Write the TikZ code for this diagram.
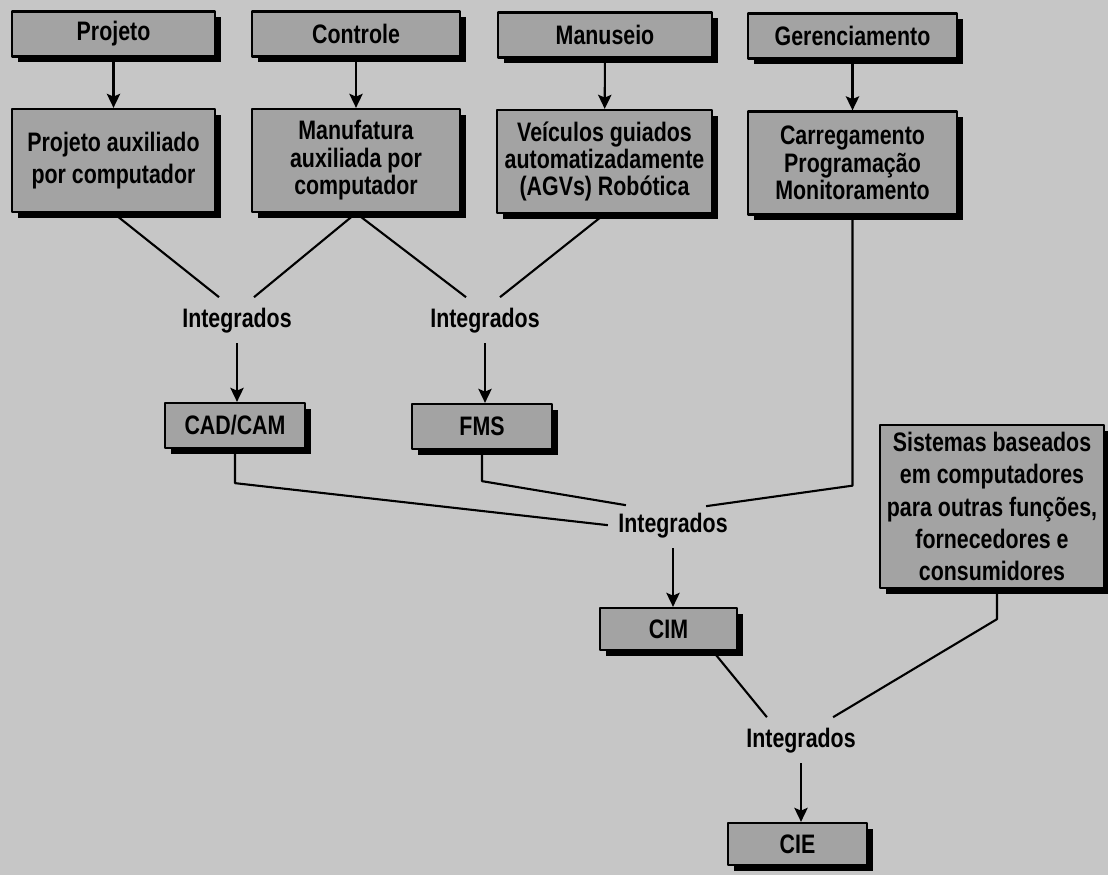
\documentclass[tikz,border=0pt]{standalone}
\usepackage{fontspec}
\setmainfont{Liberation Sans}[FakeStretch=0.8]
\usetikzlibrary{arrows.meta,shadows,calc}
\definecolor{fundo}{RGB}{198,198,198}
\definecolor{cinza}{RGB}{163,163,163}
\tikzset{
	caixa/.style={draw=black, line width=1.6pt, fill=cinza, inner sep=0pt, align=center,
		drop shadow={shadow xshift=4pt, shadow yshift=-4pt, fill=black, opacity=1}},
	integ/.style={anchor=base, inner sep=6.7pt},
	apertado/.style={font=\fontsize{19pt}{19.5pt}\selectfont\bfseries}
}
\begin{document}
\begin{tikzpicture}[x=0.025cm, y=-0.025cm, line join=round, line width=1.5pt,
	>={Stealth[length=10pt, width=9.5pt, inset=2pt]}, font=\fontsize{19pt}{23pt}\selectfont\bfseries]

	% Fundo cinza
	\useasboundingbox (0,0) rectangle (1108,875);
	\fill[fundo] (0,0) rectangle (1108,875);

	% Primeira linha de caixas
	\node[caixa, minimum width=5.075cm, minimum height=1.125cm] (projeto) at (113.5,34) {Projeto};
	\node[caixa, minimum width=5.2cm, minimum height=1.125cm] (controle) at (356,34) {Controle};
	\node[caixa, minimum width=5.35cm, minimum height=1.125cm] (manuseio) at (605,35) {Manuseio};
	\node[caixa, minimum width=5.225cm, minimum height=1.125cm] (gerenc) at (852.5,36) {Gerenciamento};

	% Segunda linha de caixas
	\node[caixa, minimum width=5.075cm, minimum height=2.575cm] (projaux) at (113.5,160.5) {Projeto auxiliado\\por computador};
	\node[caixa, apertado, minimum width=5.2cm, minimum height=2.575cm] (manuf) at (356,160.5) {Manufatura\\auxiliada por\\computador};
	\node[caixa, apertado, minimum width=5.375cm, minimum height=2.575cm] (veic) at (604.5,161.5) {Veículos guiados\\automatizadamente\\(AGVs) Robótica};
	\node[caixa, apertado, minimum width=5.225cm, minimum height=2.575cm] (carreg) at (852.5,163) {Carregamento\\Programação\\Monitoramento};

	% Textos "Integrados"
	\node[integ] (int1) at (237,327) {Integrados};
	\node[integ] (int2) at (485,327) {Integrados};
	\node[integ] (int3) at (673,532) {Integrados};
	\node[integ] (int4) at (801,747) {Integrados};

	% Caixas de baixo
	\node[caixa, minimum width=3.5cm, minimum height=1.125cm] (cadcam) at (235,425.5) {CAD/CAM};
	\node[caixa, minimum width=3.5cm, minimum height=1.125cm] (fms) at (482,426.5) {FMS};
	\node[caixa, minimum width=3.425cm, minimum height=1.05cm] (cim) at (668.5,629) {CIM};
	\node[caixa, minimum width=5.6cm, minimum height=4.075cm] (sist) at (992,506.5) {Sistemas baseados\\em computadores\\para outras funções,\\fornecedores e\\consumidores};
	\node[caixa, minimum width=3.475cm, minimum height=1.05cm] (cie) at (797.5,844) {CIE};

	% Setas entre as duas linhas
	\draw[->] (projeto) -- (projaux);
	\draw[->] (controle) -- (manuf);
	\draw[->] (manuseio) -- (veic);
	\draw[->] (gerenc) -- (carreg);

	% Ligacoes para os primeiros "Integrados"
	\draw (projaux.south) -- ($(int1.north)+(-18,0)$);
	\draw (manuf.south) -- ($(int1.north)+(17,0)$);
	\draw (manuf.south) -- ($(int2.north)+(-19,0)$);
	\draw (veic.south) -- ($(int2.north)+(15,0)$);
	\draw[->] (int1.south) -- (int1.south |- cadcam.north);
	\draw[->] (int2.south) -- (int2.south |- fms.north);

	% CAD/CAM, FMS e gerenciamento
	\draw (cadcam.south) -- ++(0,34) -- (int3.west);
	\draw (fms.south) -- ++(0,31) -- ($(int3.north west)+(18,3)$);
	\draw (carreg.south) -- ++(0,270) -- ($(int3.north east)+(-32,4)$);
	\draw[->] (int3.south) -- (int3.south |- cim.north);

	% CIM e outros sistemas
	\draw ($(cim.south east)+(-22,4)$) -- ($(int4.north west)+(31,0)$);
	\draw ($(sist.south)+(5,0)$) -- ++(0,30) -- ($(int4.north east)+(-33,0)$);
	\draw[->] (int4.south) -- (int4.south |- cie.north);

\end{tikzpicture}
\end{document}
